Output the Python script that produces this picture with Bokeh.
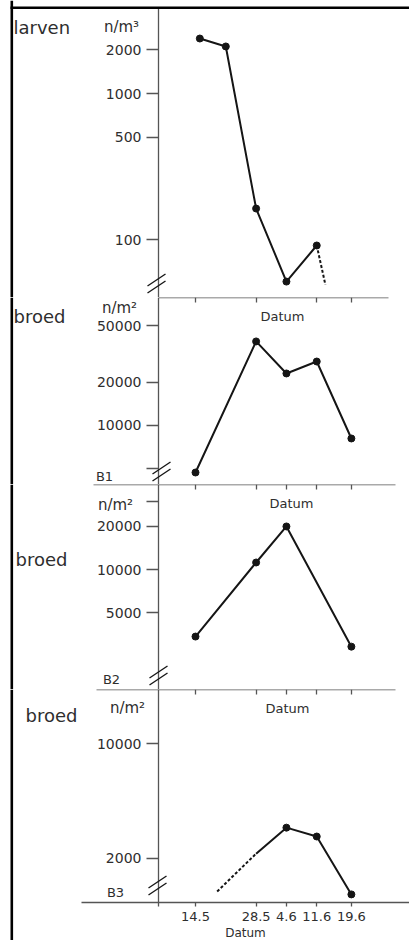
from datetime import date
from bokeh.plotting import figure
from bokeh.models import Range1d, FixedTicker, LinearAxis, Label, Arrow, BoxAnnotation
from bokeh.layouts import column
from bokeh.embed import file_html
from bokeh.resources import INLINE

# ---------------- data ----------------
YEAR = 2001
START = "14.5"

tick_dates_p1 = ["14.5", "28.5", "11.6", "19.6"]
tick_dates = ["14.5", "28.5", "4.6", "11.6", "19.6"]

larv_dates = ["15.5", "21.5", "28.5", "4.6", "11.6"]
larv_vals = [2380, 2100, 163, 51.5, 91]
larv_tail_dates = ["11.6", "13.6"]
larv_tail_vals = [91, 49]
larv_ticks = [100, 500, 1000, 2000]
larv_minor = []

b1_dates = ["14.5", "28.5", "4.6", "11.6", "19.6"]
b1_vals = [4690, 38700, 23100, 28000, 8110]
b1_ticks = [10000, 20000, 50000]
b1_minor = [5000]

b2_dates = ["14.5", "28.5", "4.6", "19.6"]
b2_vals = [3400, 11200, 20000, 2890]
b2_ticks = [5000, 10000, 20000]
b2_minor = [30000]

b3_dates = ["28.5", "4.6", "11.6", "19.6"]
b3_vals = [2140, 3080, 2720, 1210]
b3_marked = [False, True, True, True]
b3_dash_dates = ["19.5", "28.5"]
b3_dash_vals = [1260, 2140]
b3_ticks = [2000, 10000]
b3_minor = []


def day(s):
    d, m = map(int, s.split("."))
    d0, m0 = map(int, START.split("."))
    return (date(YEAR, m, d) - date(YEAR, m0, d0)).days


# ---------------- style / geometry ----------------
FONT = "DejaVu Sans"
TXT = "#2e2e2e"
AX = "#555555"
INK = "#151515"
W = 409
PX0, PXD = 195.0, 4.33          # page x of day 0, pixels per day


def px2day(x):
    return (x - PX0) / PXD


X0, X1 = px2day(0), px2day(W)
YAX = px2day(158)               # position of the vertical axis


def make_fig(h, yr):
    p = figure(width=W, height=h, y_axis_type="log",
               x_range=Range1d(X0, X1), y_range=Range1d(*yr),
               output_backend="svg", toolbar_location=None,
               x_axis_location=None,
               min_border_left=0, min_border_right=0,
               min_border_top=0, min_border_bottom=0)
    p.outline_line_color = None
    p.grid.visible = False
    p.background_fill_color = "white"
    p.border_fill_color = "white"
    # black frame line on the left (full height of the panel)
    p.add_layout(BoxAnnotation(left=10, right=12.6, left_units="screen",
                               right_units="screen", fill_color="black",
                               fill_alpha=1, line_color=None))
    return p


def style_y(p, ticks, minor, bounds="auto"):
    ax = p.yaxis[0]
    ax.fixed_location = YAX
    ax.bounds = bounds
    ax.ticker = FixedTicker(ticks=ticks, minor_ticks=minor)
    ax.major_label_overrides = {t: str(t) for t in ticks}
    ax.major_tick_out = 12
    ax.major_tick_in = 0
    ax.minor_tick_out = 12
    ax.minor_tick_in = 0
    ax.axis_line_color = AX
    ax.axis_line_width = 1.3
    ax.major_tick_line_color = AX
    ax.major_tick_line_width = 1.3
    ax.minor_tick_line_color = AX
    ax.minor_tick_line_width = 1.3
    ax.major_label_text_font = FONT
    ax.major_label_text_font_size = "14px"
    ax.major_label_text_color = TXT
    ax.major_label_standoff = 5


def top_axis(p, dates, x_from, x_to, ytop):
    ax = LinearAxis(ticker=FixedTicker(ticks=[], minor_ticks=[day(d) for d in dates]),
                    fixed_location=ytop, bounds=(px2day(x_from), px2day(x_to)),
                    major_tick_in=0, major_tick_out=0,
                    minor_tick_in=0, minor_tick_out=5,
                    axis_line_color=AX, axis_line_width=1.3,
                    minor_tick_line_color=AX, minor_tick_line_width=1.3,
                    major_tick_line_color=None)
    p.add_layout(ax, "below")


def seg(p, x0, y0, x1, y1, color=INK, width=1.4):
    p.add_layout(Arrow(end=None, x_start=x0, y_start=y0, x_end=x1, y_end=y1,
                       start_units="screen", end_units="screen",
                       line_color=color, line_width=width))


def lab(p, text, xpage, yrel, size, align="left", color=TXT):
    p.add_layout(Label(x=xpage, y=yrel, x_units="screen", y_units="screen",
                       text=text, text_font=FONT, text_font_size=size,
                       text_align=align, text_baseline="middle", text_color=color))


def brk(p, xpage, yrel):
    for oy in (-3.5, 3.5):
        seg(p, xpage - 9, yrel + oy - 6, xpage + 9, yrel + oy + 6)


def series(p, dates, vals, dash="solid", markers=True):
    xs = [day(d) for d in dates]
    p.line(xs, vals, line_color=INK, line_width=2, line_dash=dash)
    if markers:
        p.scatter(xs, vals, size=7, color=INK)


H1, H2, H3, H4 = 297, 187, 205, 251

# ---------------- panel 1: larven ----------------
r1 = (40.07, 4335)
TOP_LINE = 3865                 # value at the height of the top frame line
p1 = make_fig(H1, r1)
style_y(p1, larv_ticks, larv_minor, bounds=(1, TOP_LINE))
series(p1, larv_dates, larv_vals)
series(p1, larv_tail_dates, larv_tail_vals, dash="3 2", markers=False)
lab(p1, "larven", 13, 270, "18px")
lab(p1, "n/m³", 121, 271, "15px", align="center")
brk(p1, 156, 14)
p1.add_layout(BoxAnnotation(left=10, left_units="screen",
                            bottom=H1 - 8.6, top=H1 - 6,
                            bottom_units="screen", top_units="screen",
                            fill_color="black", fill_alpha=1, line_color=None))

# ---------------- panel 2: B1 ----------------
r2 = (3865, 78500)
p2 = make_fig(H2, r2)
style_y(p2, b1_ticks, b1_minor)
top_axis(p2, tick_dates_p1, 158, 388, r2[1])
series(p2, b1_dates, b1_vals)
lab(p2, "Datum", 282, 168, "13px", align="center")
lab(p2, "broed", 13, 168, "18px")
lab(p2, "n/m²", 119, 177, "15px", align="center")
lab(p2, "B1", 104, 8, "13px", align="center")
brk(p2, 161, 13)

# ---------------- panel 3: B2 ----------------
r3 = (1450, 39300)
p3 = make_fig(H3, r3)
style_y(p3, b2_ticks, b2_minor)
top_axis(p3, tick_dates, 93, 395, r3[1])
series(p3, b2_dates, b2_vals)
lab(p3, "Datum", 291, 186, "13px", align="center")
lab(p3, "broed", 15, 130, "18px")
lab(p3, "n/m²", 115, 185, "15px", align="center")
lab(p3, "B2", 111, 10, "13px", align="center")
brk(p3, 158, 14)

# ---------------- panel 4: B3 ----------------
r4 = (634.6, 21300)
AXIS4 = 1080                    # value where the date axis is drawn
B4 = 38                         # pixels below that axis
p4 = make_fig(H4, r4)
style_y(p4, b3_ticks, b3_minor, bounds=(1021, 1e6))
top_axis(p4, tick_dates, 96, 395, r4[1])
bx = LinearAxis(ticker=FixedTicker(ticks=[day(d) for d in tick_dates]),
                fixed_location=AXIS4, bounds=(px2day(81), X1),
                major_label_overrides={day(d): d for d in tick_dates},
                major_tick_in=0, major_tick_out=4,
                axis_line_color=AX, axis_line_width=1.3,
                major_tick_line_color=AX, major_tick_line_width=1.3,
                minor_tick_line_color=None,
                major_label_text_font=FONT, major_label_text_font_size="13px",
                major_label_text_color=TXT, major_label_standoff=5,
                axis_label="Datum", axis_label_text_font=FONT,
                axis_label_text_font_size="12px", axis_label_text_font_style="normal",
                axis_label_text_color=TXT, axis_label_standoff=2)
p4.add_layout(bx, "below")
xs_all = [day(d) for d in b3_dates]
p4.line(xs_all, b3_vals, line_color=INK, line_width=2)
p4.scatter([x for x, m in zip(xs_all, b3_marked) if m],
           [v for v, m in zip(b3_vals, b3_marked) if m], size=7, color=INK)
series(p4, b3_dash_dates, b3_dash_vals, dash="3 2", markers=False)
lab(p4, "Datum", 287, 194 + B4, "13px", align="center")
lab(p4, "broed", 25, 187 + B4, "18px")
lab(p4, "n/m²", 127, 195 + B4, "15px", align="center")
lab(p4, "B3", 115, 10 + B4, "13px", align="center")
brk(p4, 157, 17 + B4)

layout = column(p1, p2, p3, p4, spacing=0)
open("out.html", "w").write(file_html(layout, INLINE))
